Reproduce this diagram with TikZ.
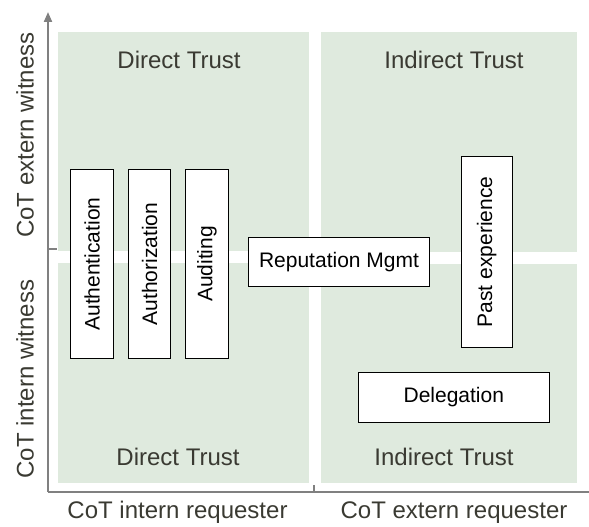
\documentclass[tikz,border=0pt]{standalone}
\usepackage{fontspec}
\setmainfont{Liberation Sans}
\usetikzlibrary{arrows.meta}
\definecolor{quadfill}{RGB}{223,234,222}
\definecolor{labtext}{RGB}{58,58,50}
\definecolor{axisgray}{RGB}{128,128,128}
\begin{document}
\begin{tikzpicture}[x=1pt,y=-1pt,
  quad/.style={fill=quadfill,draw=none},
  qlabel/.style={anchor=base,text=labtext,font=\fontsize{24}{28}\selectfont,inner sep=0pt},
  alabel/.style={anchor=base,text=labtext,font=\fontsize{24}{28}\selectfont,inner sep=0pt},
  vlabel/.style={alabel,rotate=90},
  tbox/.style={draw=black,line width=0.9pt,fill=white,font=\fontsize{21}{25}\selectfont,inner sep=0pt},
  axisline/.style={draw=axisgray,line width=2pt}]
\useasboundingbox (0,0) rectangle (589,527);
% quadrants
\fill[quad] (58,32) rectangle (309,251);
\fill[quad] (321,32) rectangle (577,252);
\fill[quad] (58,263) rectangle (309,483);
\fill[quad] (321,264) rectangle (577,483);
% quadrant labels
\node[qlabel] (dt1) at (179,69) {Direct Trust};
\node[qlabel] (it1) at (454,69) {Indirect Trust};
\node[qlabel] (dt2) at (178,465) {Direct Trust};
\node[qlabel] (it2) at (444,465) {Indirect Trust};
% axes
\coordinate (o) at (48,492);
\coordinate (ytop) at (48,12);
\coordinate (xend) at (589,492);
\draw[axisline,-{Triangle[length=10pt,width=8pt]}] (o) -- (ytop);
\draw[axisline] (o) -- (xend);
\coordinate (xt1) at (314,492);
\coordinate (xt2) at (314,485);
\draw[axisline,line width=1.5pt] (xt1) -- (xt2);
\coordinate (yt1) at (48,249);
\coordinate (yt2) at (57,249);
\draw[axisline,line width=1.5pt] (yt1) -- (yt2);
% axis labels
\node[alabel] (xl1) at (177.5,518) {CoT intern requester};
\node[alabel] (xl2) at (454,518) {CoT extern requester};
\node[vlabel] (yl1) at (33.5,135) {CoT extern witness};
\node[vlabel] (yl2) at (33.5,379) {CoT intern witness};
% boxes
\node[tbox,rotate=90,minimum width=189.7pt,minimum height=42.6pt] (auth) at (92,264) {Authentication};
\node[tbox,rotate=90,minimum width=189.7pt,minimum height=42.6pt] (authz) at (149.5,264) {Authorization};
\node[tbox,rotate=90,minimum width=189.7pt,minimum height=42.6pt] (audit) at (207,264) {Auditing};
\node[tbox,minimum width=180.6pt,minimum height=49.4pt] (rep) at (339,262) {Reputation Mgmt};
\node[tbox,rotate=90,minimum width=190.6pt,minimum height=50.7pt] (past) at (486.7,252) {Past experience};
\node[tbox,minimum width=191pt,minimum height=50.4pt] (deleg) at (453.8,397.5) {Delegation};
\end{tikzpicture}
\end{document}
